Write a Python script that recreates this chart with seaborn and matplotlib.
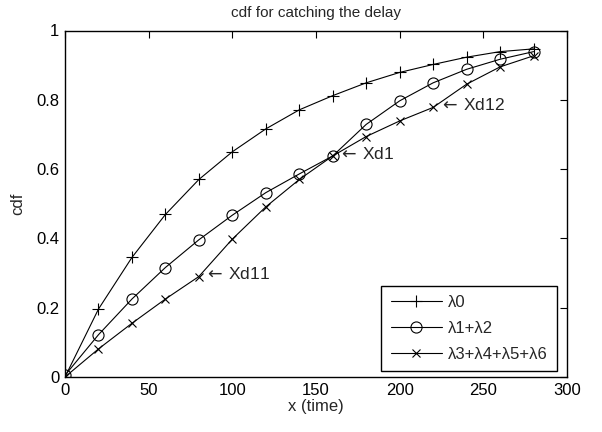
import matplotlib
matplotlib.use("Agg")
import matplotlib.pyplot as plt
import seaborn as sns
import numpy as np
import pandas as pd
from matplotlib.ticker import FormatStrFormatter

# ---- data ----
x_time = [0, 20, 40, 60, 80, 100, 120, 140, 160, 180, 200, 220, 240, 260, 280]
cdf_l0 = [0.0, 0.196, 0.345, 0.469, 0.570, 0.650, 0.716, 0.771, 0.812, 0.849,
          0.879, 0.902, 0.923, 0.939, 0.947]
cdf_l12 = [0.005, 0.122, 0.225, 0.316, 0.396, 0.467, 0.532, 0.586, 0.638, 0.729,
           0.797, 0.849, 0.888, 0.917, 0.939]
cdf_l3456 = [0.0, 0.081, 0.155, 0.225, 0.290, 0.398, 0.491, 0.570, 0.638, 0.694,
             0.739, 0.778, 0.845, 0.895, 0.927]
series_names = ["λ0", "λ1+λ2", "λ3+λ4+λ5+λ6"]
series_markers = ["+", "o", "x"]
annot_labels = [r"$\leftarrow\,$Xd12", r"$\leftarrow\,$Xd1", r"$\leftarrow\,$Xd11"]
annot_x = [220, 160, 80]
annot_y = [0.778, 0.638, 0.290]
title_text = "cdf for catching the delay"
xlabel_text = "x (time)"
ylabel_text = "cdf"
xticks = [0, 50, 100, 150, 200, 250, 300]
yticks = [0, 0.2, 0.4, 0.6, 0.8, 1]

sns.set_style("white")
plt.rcParams["font.family"] = ["Liberation Sans", "DejaVu Sans"]
plt.rcParams["mathtext.fontset"] = "dejavusans"

fig = plt.figure(figsize=(6.02, 4.32), dpi=100)
ax = fig.add_axes([65 / 602, 1 - 377 / 432, (567 - 65) / 602, (377 - 30.5) / 432])

marker_sizes = {"+": 8.5, "o": 8, "x": 6}
for name, vals, mk in zip(series_names, [cdf_l0, cdf_l12, cdf_l3456], series_markers):
    df = pd.DataFrame({"x": x_time, "cdf": vals})
    sns.lineplot(data=df, x="x", y="cdf", ax=ax, color="black", lw=0.8,
                 marker=mk, markersize=marker_sizes[mk], markeredgecolor="black",
                 markerfacecolor="none", markeredgewidth=0.8, label=name)

for lab, xa, ya in zip(annot_labels, annot_x, annot_y):
    ax.annotate(lab, xy=(xa, ya), xytext=(4, 1.5), textcoords="offset points",
                ha="left", va="center", fontsize=12.5)

ax.set_xlim(0, 300)
ax.set_ylim(0, 1)
ax.set_xticks(xticks)
ax.set_yticks(yticks)
ax.yaxis.set_major_formatter(FormatStrFormatter("%g"))
ax.tick_params(direction="in", length=5, width=0.8, top=True, right=True,
               labelsize=12, colors="black", pad=4)
for sp in ax.spines.values():
    sp.set_visible(True)
    sp.set_color("black")
    sp.set_linewidth(1.0)

ax.set_title(title_text, fontsize=11, pad=10)
ax.set_xlabel(xlabel_text, fontsize=12, labelpad=1)
ax.set_ylabel(ylabel_text, fontsize=12, labelpad=8)

leg = ax.legend(loc="lower right", bbox_to_anchor=(0.980, 0.017), fontsize=12,
                numpoints=1, handlelength=3.1, handletextpad=0.35,
                labelspacing=0.65, borderpad=0.55, borderaxespad=0.0,
                fancybox=False, framealpha=1, edgecolor="black")
leg.get_frame().set_linewidth(1.0)

fig.savefig("out.png", dpi=100)
